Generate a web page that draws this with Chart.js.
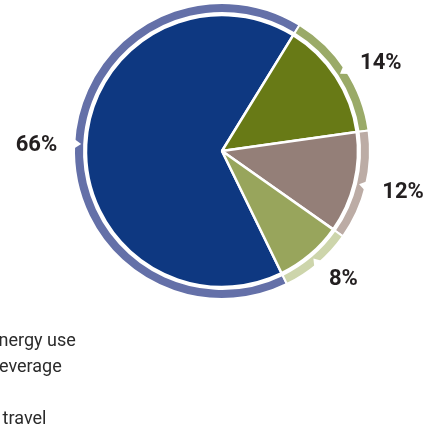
<!DOCTYPE html>
<html>
<head>
<meta charset="utf-8">
<script src="https://cdn.jsdelivr.net/npm/chart.js@4/dist/chart.umd.min.js"></script>
<style>
  html, body { margin: 0; padding: 0; background: #ffffff; overflow: hidden; }
  body { width: 431px; height: 432px; position: relative; }
  #wrap { position: absolute; left: -99px; top: 0; width: 530px; height: 432px; }
</style>
</head>
<body>
<div id="wrap"><canvas id="c"></canvas></div>
<script>
// ---- data ----
const categories = ['Building energy use', 'Meals & beverage', 'Waste', 'Employee travel'];
const values = [66, 14, 12, 8];
const percentLabels = ['66%', '14%', '12%', '8%'];

// ---- styles ----
const pieColors = ['#0e3881', '#687a16', '#947f78', '#98a55c'];
const ringColors = ['#6470a8', '#9aaa68', '#bcaca5', '#cdd5ab'];
const legendFont = { family: 'Roboto', size: 18 };

// legend column is wider than the visible part; pad the right side so the pie stays put
const mctx = document.createElement('canvas').getContext('2d');
mctx.font = legendFont.size + 'px ' + legendFont.family;
const longest = Math.max(...categories.map(t => mctx.measureText(t).width));
const rightPad = Math.max(0, longest - 83);

const notchPlugin = {
  id: 'notches',
  afterDatasetsDraw(chart) {
    const meta = chart.getDatasetMeta(0);
    const ctx = chart.ctx;
    ctx.save();
    ctx.fillStyle = '#ffffff';
    meta.data.forEach(arc => {
      const p = arc.getProps(['x', 'y', 'startAngle', 'endAngle', 'outerRadius']);
      const mid = (p.startAngle + p.endAngle) / 2;
      const rOut = p.outerRadius + 2;
      const rIn = p.outerRadius - 7;
      const hw = 0.04;
      ctx.beginPath();
      ctx.moveTo(p.x + rOut * Math.cos(mid - hw), p.y + rOut * Math.sin(mid - hw));
      ctx.lineTo(p.x + rIn * Math.cos(mid), p.y + rIn * Math.sin(mid));
      ctx.lineTo(p.x + rOut * Math.cos(mid + hw), p.y + rOut * Math.sin(mid + hw));
      ctx.closePath();
      ctx.fill();
    });
    ctx.restore();
  }
};

const pctPlugin = {
  id: 'pctLabels',
  afterDatasetsDraw(chart) {
    const meta = chart.getDatasetMeta(2);
    const ctx = chart.ctx;
    ctx.save();
    ctx.font = 'bold 22px Roboto';
    ctx.fillStyle = '#231f20';
    ctx.textBaseline = 'middle';
    meta.data.forEach((arc, i) => {
      const p = arc.getProps(['x', 'y', 'startAngle', 'endAngle']);
      const mid = (p.startAngle + p.endAngle) / 2;
      const r = 165;
      const x = p.x + r * Math.cos(mid);
      const y = p.y + r * Math.sin(mid) + 3;
      ctx.textAlign = Math.cos(mid) >= 0 ? 'left' : 'right';
      ctx.fillText(percentLabels[i], x, y);
    });
    ctx.restore();
  }
};

new Chart(document.getElementById('c'), {
  type: 'pie',
  data: {
    labels: categories,
    datasets: [
      { data: values, backgroundColor: ringColors, borderColor: '#ffffff', borderWidth: 2, weight: 10 },
      { data: values, backgroundColor: 'rgba(0,0,0,0)', borderWidth: 0, weight: 2 },
      { data: values, backgroundColor: pieColors, borderColor: '#ffffff', borderWidth: 2.5, weight: 136 }
    ]
  },
  options: {
    responsive: true,
    maintainAspectRatio: false,
    animation: false,
    radius: 148,
    rotation: 154,
    layout: { padding: { left: 0, top: 0, bottom: 0, right: rightPad } },
    plugins: {
      tooltip: { enabled: false },
      title: {
        display: true,
        text: '',
        position: 'bottom',
        fullSize: false,
        font: { size: 12 },
        padding: { top: 0, bottom: 115.6 }
      },
      legend: {
        position: 'left',
        align: 'end',
        fullSize: true,
        labels: {
          boxWidth: 10,
          boxHeight: 26,
          padding: 0,
          textAlign: 'left',
          color: '#2b2b2b',
          font: legendFont
        }
      }
    }
  },
  plugins: [notchPlugin, pctPlugin]
});
</script>
</body>
</html>
